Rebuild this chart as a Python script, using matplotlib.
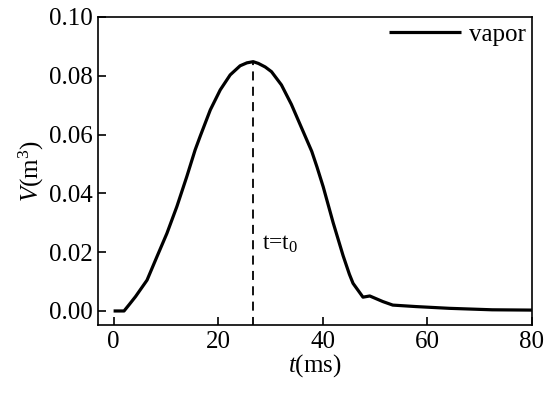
import matplotlib
matplotlib.use("Agg")
import matplotlib.pyplot as plt

plt.rcParams['font.family'] = ['Liberation Serif', 'DejaVu Serif']
plt.rcParams['mathtext.fontset'] = 'custom'
plt.rcParams['mathtext.rm'] = 'Liberation Serif'
plt.rcParams['mathtext.it'] = 'Liberation Serif:italic'

t_ms = [0.0, 0.7, 2.0, 3.0, 4.2, 6.4, 8.3, 10.2, 12.1, 14.0, 15.6, 16.6, 18.5,
        20.4, 22.3, 24.2, 25.5, 26.7, 27.7, 29.0, 30.2, 32.1, 34.0, 35.9, 37.9,
        38.9, 40.1, 42.0, 43.9, 45.1, 45.8, 47.7, 49.0, 51.5, 53.4, 57.8, 64.2,
        72.4, 80.0]
vapor = [0.0, 0.0, 0.0, 0.0022, 0.0049, 0.0105, 0.0185, 0.0264, 0.0355, 0.0457,
         0.0548, 0.0596, 0.0684, 0.0752, 0.0803, 0.0834, 0.0844, 0.0848, 0.0842,
         0.0830, 0.0814, 0.0769, 0.0703, 0.0625, 0.0543, 0.0490, 0.0422, 0.0300,
         0.0188, 0.0125, 0.0094, 0.0047, 0.0051, 0.0032, 0.0020, 0.0015, 0.0009,
         0.0004, 0.0003]
t0 = 26.7
v_peak = 0.0848
xticks = [0, 20, 40, 60, 80]
yticks = [0.00, 0.02, 0.04, 0.06, 0.08, 0.10]

fig = plt.figure(figsize=(5.5, 3.95), dpi=100)
ax = fig.add_axes([0.178, 0.177, 0.789, 0.780])

ax.plot(t_ms, vapor, color='black', lw=2.3, label='vapor',
        solid_joinstyle='round', solid_capstyle='butt')
ax.plot([t0, t0], [-0.005, v_peak], color='black', lw=1.3, ls=(0, (5, 3.5)))
ax.text(28.3, 0.0225, r't=t$_0$', fontsize=17, va='center', ha='left')

ax.set_xlim(-3, 80)
ax.set_ylim(-0.0048, 0.10)
ax.set_xticks(xticks)
ax.set_yticks(yticks)
ax.set_xticklabels([str(v) for v in xticks])
ax.set_yticklabels([f'{v:.2f}' for v in yticks])
ax.tick_params(direction='in', length=6, width=1.2, labelsize=18, pad=4)
for s in ax.spines.values():
    s.set_linewidth(1.2)

ax.set_xlabel(r'$t$(ms)', fontsize=18, labelpad=0)
ax.set_ylabel(r'$V$(m$^3$)', fontsize=18, labelpad=2)

ax.legend(loc='upper right', frameon=False, fontsize=18, borderaxespad=0.0,
          handlelength=2.9, handletextpad=0.3, borderpad=0.25)

fig.savefig('out.png', dpi=100)
